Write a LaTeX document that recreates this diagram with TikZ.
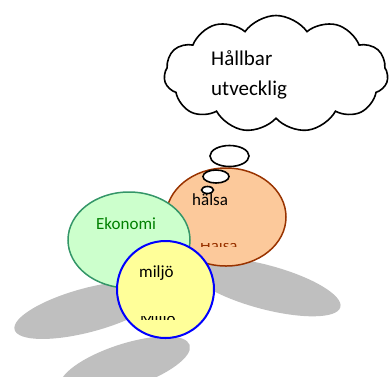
\documentclass[tikz,border=0pt]{standalone}
\usepackage{fontspec}
\setmainfont{Carlito}
\usetikzlibrary{shapes.geometric,shapes.symbols}
\definecolor{orfill}{RGB}{252,201,155}
\definecolor{orline}{RGB}{153,51,0}
\definecolor{grfill}{RGB}{204,255,204}
\definecolor{grline}{RGB}{52,150,104}
\definecolor{grtext}{RGB}{0,128,0}
\definecolor{yefill}{RGB}{255,255,153}
\definecolor{shade}{RGB}{191,191,191}
\tikzset{
  shadowblob/.style={fill=shade},
  bubble/.style={ellipse, draw=black, fill=white, line width=1.6pt, inner sep=0pt},
  circtext/.style={font=\fontsize{17}{20}\selectfont, inner sep=0pt},
}
\begin{document}
\begin{tikzpicture}[x=1pt,y=-1pt]
\useasboundingbox (0,0) rectangle (390,376);
% shadows
\fill[shadowblob, rotate around={-15:(265,287)}] (265,287) ellipse (78 and 22);
\fill[shadowblob, rotate around={15:(88,310)}] (88,310) ellipse (76 and 22);
\fill[shadowblob, rotate around={18:(125,366)}] (125,366) ellipse (68 and 22);
% circles
\node[ellipse, draw=orline, fill=orfill, line width=1.5pt, minimum width=120pt, minimum height=98pt] (health) at (226,217) {};
\node[ellipse, draw=grline, fill=grfill, line width=1.5pt, minimum width=122pt, minimum height=96pt] (economy) at (129,240) {};
\node[circle, draw=blue, fill=yefill, line width=2pt, minimum size=97pt] (environment) at (165.5,289.5) {};
% labels
\node[circtext, anchor=base west] (halsa) at (192,205) {hälsa};
\node[circtext, text=grtext, anchor=base west] (ekonomi) at (96,229) {Ekonomi};
\node[circtext, anchor=base west] (miljo) at (139,277) {miljö};
\begin{scope}
\clip (195,243) rectangle (245,246);
\node[circtext, text=orline, anchor=north west] (halsaclip) at (200,239) {Hälsa};
\end{scope}
\begin{scope}
\clip (135,316) rectangle (185,319.5);
\node[circtext, anchor=north west] (miljoclip) at (140,312) {Miljö};
\end{scope}
% thought bubbles
\node[bubble, minimum width=39pt, minimum height=21pt] (b1) at (229.5,156) {};
\node[bubble, minimum width=26pt, minimum height=13pt] (b2) at (216,176.5) {};
\node[bubble, minimum width=12pt, minimum height=7pt] (b3) at (207.5,190) {};
% cloud
\node[cloud, cloud puffs=11, cloud puff arc=110, aspect=1.9, draw=black, fill=white, line width=1.6pt, minimum width=224pt, minimum height=117pt, inner sep=0pt] (cloud) at (276,74) {};
\node[font=\fontsize{21}{30}\selectfont, align=left, anchor=base west, inner sep=0pt] (goal) at (211,95) {Hållbar\\utvecklig};
\end{tikzpicture}
\end{document}
